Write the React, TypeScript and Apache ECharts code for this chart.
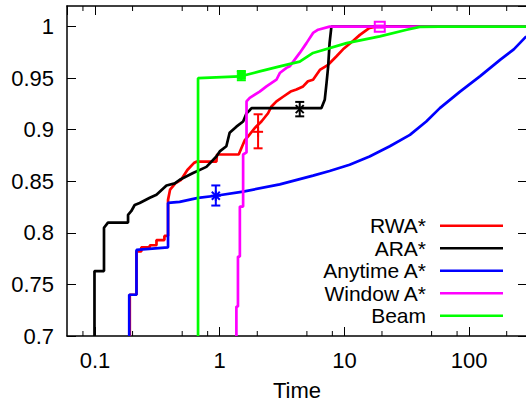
import React, { useEffect, useRef } from 'react';
import * as echarts from 'echarts';

const X_MIN = 0.0596;
const X_MAX = 291;
const Y_MIN = 0.7;
const Y_MAX = 1.02;
const Y_STEP = 0.05;
const MINOR_X_TICKS = [0.08, 0.2, 0.5, 0.8, 2, 5, 8, 20, 50, 80, 200];
const X_TITLE = 'Time';

const SERIES_NAMES = ['RWA*', 'ARA*', 'Anytime A*', 'Window A*', 'Beam'];
const SERIES_COLORS = ['#ff0000', '#000000', '#0000ff', '#ff00ff', '#00ff00'];

const rwa: [number, number][] = [
  [0.19, 0.7], [0.19, 0.74], [0.215, 0.74], [0.215, 0.782], [0.235, 0.782], [0.235, 0.786],
  [0.275, 0.786], [0.275, 0.788], [0.311, 0.788], [0.311, 0.793], [0.36, 0.793], [0.36, 0.797],
  [0.385, 0.797], [0.385, 0.832], [0.4, 0.842], [0.44, 0.848], [0.49, 0.8515], [0.55, 0.861],
  [0.62, 0.8677], [0.65, 0.869], [0.94, 0.869], [0.95, 0.876], [1.42, 0.876], [1.49, 0.882],
  [1.59, 0.89], [1.69, 0.8935], [1.91, 0.9017], [2.16, 0.908], [2.44, 0.916], [2.6, 0.9226],
  [2.85, 0.9275], [3.22, 0.932], [3.7, 0.937], [4.12, 0.939], [4.66, 0.942], [5.1, 0.947],
  [5.6, 0.9485], [6.35, 0.958], [7.4, 0.963], [8.6, 0.971], [9.74, 0.978], [11.7, 0.986],
  [13.3, 0.992], [15.9, 0.9987], [18, 1.0], [300, 1.0],
];

const ara: [number, number][] = [
  [0.099, 0.7], [0.099, 0.763], [0.118, 0.763], [0.118, 0.805], [0.127, 0.81], [0.184, 0.81],
  [0.184, 0.8175], [0.195, 0.821], [0.208, 0.827], [0.228, 0.829], [0.275, 0.834], [0.311, 0.837],
  [0.374, 0.846], [0.436, 0.848], [0.478, 0.8515], [0.611, 0.858], [0.782, 0.864], [0.94, 0.874],
  [1.0, 0.879], [1.13, 0.884], [1.2, 0.897], [1.36, 0.903], [1.54, 0.908], [1.64, 0.916],
  [1.74, 0.919], [1.8, 0.921], [6.54, 0.921], [6.95, 0.929], [7.18, 0.945], [7.4, 0.961],
  [7.6, 0.984], [7.86, 1.0], [300, 1.0],
];

const anytime: [number, number][] = [
  [0.188, 0.7], [0.188, 0.74], [0.215, 0.74], [0.215, 0.7835], [0.385, 0.786], [0.385, 0.829],
  [0.477, 0.83], [0.67, 0.834], [0.93, 0.836], [1.54, 0.84], [3.03, 0.847], [5.6, 0.8555],
  [7.6, 0.86], [11, 0.866], [15.9, 0.874], [23.1, 0.884], [33.5, 0.895], [45.3, 0.908],
  [58.2, 0.921], [84.5, 0.937], [122.6, 0.952], [178, 0.968], [228, 0.978], [287, 0.9906],
];

const windowA: [number, number][] = [
  [1.36, 0.7], [1.36, 0.7285], [1.4, 0.7285], [1.4, 0.777], [1.45, 0.777], [1.45, 0.8255],
  [1.54, 0.8255], [1.54, 0.876], [1.64, 0.878], [1.64, 0.9275], [1.74, 0.931], [2.09, 0.937],
  [2.37, 0.942], [2.85, 0.9485], [3.03, 0.955], [3.43, 0.96], [3.64, 0.9615], [4.38, 0.9745],
  [4.96, 0.984], [5.6, 0.9939], [6.15, 0.997], [7.6, 1.0], [300, 1.0],
];

const beam: [number, number][] = [
  [0.67, 0.7], [0.67, 0.95], [1.45, 0.9517], [2.09, 0.9566], [3.03, 0.9615], [4.38, 0.966],
  [5.6, 0.9745], [10.4, 0.984], [19.2, 0.9906], [31.6, 0.997], [40.2, 0.9997], [58, 1.0], [300, 1.0],
];

// error bars: [x, y, low, high]
const rwaErr = [[2.03, 0.898, 0.882, 0.915]];
const araErr = [[4.38, 0.92, 0.913, 0.927]];
const anytimeErr = [[0.93, 0.836, 0.8265, 0.846]];
const windowErr = [[19.2, 1.0, 0.999, 1.001]];
const beamErr = [[1.49, 0.953, 0.948, 0.957]];

const SERIES_DATA = [rwa, ara, anytime, windowA, beam];
const ERR_DATA = [rwaErr, araErr, anytimeErr, windowErr, beamErr];
const MARKERS = ['plus', 'cross', 'star', 'openSquare', 'filledSquare'];

const FONT = 'Liberation Sans, Arial, sans-serif';
const FS = 22;
const LEGEND_FS = 21;

function makeErrRender(color: string, marker: string) {
  return (params: any, api: any) => {
    const x = api.value(0);
    const y = api.value(1);
    const lo = api.value(2);
    const hi = api.value(3);
    const p = api.coord([x, y]);
    const pl = api.coord([x, lo]);
    const ph = api.coord([x, hi]);
    const cap = 4.5;
    const st = { stroke: color, lineWidth: 2 };
    const children: any[] = [
      { type: 'line', shape: { x1: p[0], y1: pl[1], x2: p[0], y2: ph[1] }, style: st },
      { type: 'line', shape: { x1: p[0] - cap, y1: pl[1], x2: p[0] + cap, y2: pl[1] }, style: st },
      { type: 'line', shape: { x1: p[0] - cap, y1: ph[1], x2: p[0] + cap, y2: ph[1] }, style: st },
    ];
    const s = 5;
    if (marker === 'plus' || marker === 'star') {
      children.push({ type: 'line', shape: { x1: p[0] - s, y1: p[1], x2: p[0] + s, y2: p[1] }, style: st });
      children.push({ type: 'line', shape: { x1: p[0], y1: p[1] - s, x2: p[0], y2: p[1] + s }, style: st });
    }
    if (marker === 'cross' || marker === 'star') {
      const d = 4;
      children.push({ type: 'line', shape: { x1: p[0] - d, y1: p[1] - d, x2: p[0] + d, y2: p[1] + d }, style: st });
      children.push({ type: 'line', shape: { x1: p[0] - d, y1: p[1] + d, x2: p[0] + d, y2: p[1] - d }, style: st });
    }
    if (marker === 'openSquare') {
      children.push({ type: 'rect', shape: { x: p[0] - 5, y: p[1] - 5, width: 10, height: 10 }, style: { fill: 'none', stroke: color, lineWidth: 2 } });
    }
    if (marker === 'filledSquare') {
      children.push({ type: 'rect', shape: { x: p[0] - 4, y: p[1] - 4, width: 8, height: 8 }, style: { fill: color, stroke: color, lineWidth: 1 } });
    }
    return { type: 'group', children };
  };
}

// minor ticks on bottom and top x axes, positioned by the log axis
function renderMinorTick(params: any, api: any) {
  const cs = params.coordSys;
  const px = api.coord([api.value(0), Y_MIN])[0];
  const st = { stroke: '#000', lineWidth: 1 };
  const bottom = cs.y + cs.height;
  return {
    type: 'group',
    children: [
      { type: 'line', shape: { x1: px, y1: bottom, x2: px, y2: bottom - 5 }, style: st },
      { type: 'line', shape: { x1: px, y1: cs.y, x2: px, y2: cs.y + 5 }, style: st },
    ],
  };
}

const isMajor = (v: number) => {
  const l = Math.log10(v);
  return Math.abs(l - Math.round(l)) < 1e-6;
};

export default function App() {
  const ref = useRef<HTMLDivElement>(null);
  useEffect(() => {
    if (!ref.current) return;
    const chart = echarts.init(ref.current, null, { renderer: 'svg' });
    const axisLineStyle = { color: '#000', width: 1.5 };
    const lineSeries = SERIES_NAMES.map((name, i) => ({
      name,
      type: 'line',
      data: SERIES_DATA[i],
      xAxisIndex: 0,
      yAxisIndex: 0,
      symbol: 'none',
      showSymbol: false,
      clip: true,
      lineStyle: { color: SERIES_COLORS[i], width: 2.7 },
      itemStyle: { color: SERIES_COLORS[i] },
      z: 2,
    }));
    const errSeries = SERIES_NAMES.map((name, i) => ({
      name: name + ' error',
      type: 'custom',
      xAxisIndex: 0,
      yAxisIndex: 0,
      data: ERR_DATA[i],
      encode: { x: 0, y: 1 },
      renderItem: makeErrRender(SERIES_COLORS[i], MARKERS[i]),
      z: 3,
    }));
    const minorTickSeries = {
      name: 'minor ticks',
      type: 'custom',
      xAxisIndex: 0,
      yAxisIndex: 0,
      data: MINOR_X_TICKS.map((v) => [v, Y_MIN]),
      encode: { x: 0, y: 1 },
      renderItem: renderMinorTick,
      silent: true,
      z: 4,
    };
    const majorTick = { show: true, inside: true, length: 9, lineStyle: { color: '#000', width: 1 } };
    chart.setOption({
      animation: false,
      grid: { left: 67, right: -1, top: 6, bottom: 65, outerBoundsMode: 'none' },
      legend: {
        data: SERIES_NAMES.map((n) => ({ name: n, icon: 'rect' })),
        orient: 'vertical',
        right: 23,
        top: 214.5,
        align: 'right',
        itemWidth: 63,
        itemHeight: 2.7,
        itemGap: 0,
        padding: 0,
        textStyle: { fontSize: LEGEND_FS, fontFamily: FONT, color: '#000', padding: [0, 9, 0, 0], lineHeight: 22.5 },
      },
      xAxis: [
        {
          type: 'log',
          logBase: 10,
          min: X_MIN,
          max: X_MAX,
          position: 'bottom',
          name: X_TITLE,
          nameLocation: 'middle',
          nameGap: 43,
          nameTextStyle: { fontSize: FS, fontFamily: FONT, color: '#000' },
          axisLine: { show: true, onZero: false, lineStyle: axisLineStyle },
          axisTick: majorTick,
          axisLabel: {
            show: true,
            margin: 13,
            fontSize: FS,
            fontFamily: FONT,
            color: '#000',
            showMinLabel: false,
            showMaxLabel: false,
            formatter: (v: number) => (isMajor(v) ? String(+v.toPrecision(6)) : ''),
          },
          splitLine: { show: false },
        },
        {
          type: 'log',
          logBase: 10,
          min: X_MIN,
          max: X_MAX,
          position: 'top',
          axisLine: { show: true, onZero: false, lineStyle: axisLineStyle },
          axisTick: majorTick,
          axisLabel: { show: false },
          splitLine: { show: false },
        },
      ],
      yAxis: [
        {
          type: 'value',
          min: Y_MIN,
          max: Y_MAX,
          interval: Y_STEP,
          position: 'left',
          axisLine: { show: true, onZero: false, lineStyle: axisLineStyle },
          axisTick: majorTick,
          axisLabel: { margin: 13, fontSize: FS, fontFamily: FONT, color: '#000', showMaxLabel: false },
          splitLine: { show: false },
        },
        {
          type: 'value',
          min: Y_MIN,
          max: Y_MAX,
          interval: Y_STEP,
          position: 'right',
          axisLine: { show: true, onZero: false, lineStyle: axisLineStyle },
          axisTick: majorTick,
          axisLabel: { show: false },
          splitLine: { show: false },
        },
      ],
      series: [...lineSeries, ...errSeries, minorTickSeries],
    });
    return () => chart.dispose();
  }, []);
  return (
    <div
      ref={ref}
      style={{ position: 'fixed', left: 0, top: 0, width: 526, height: 401, background: '#fff' }}
    />
  );
}
